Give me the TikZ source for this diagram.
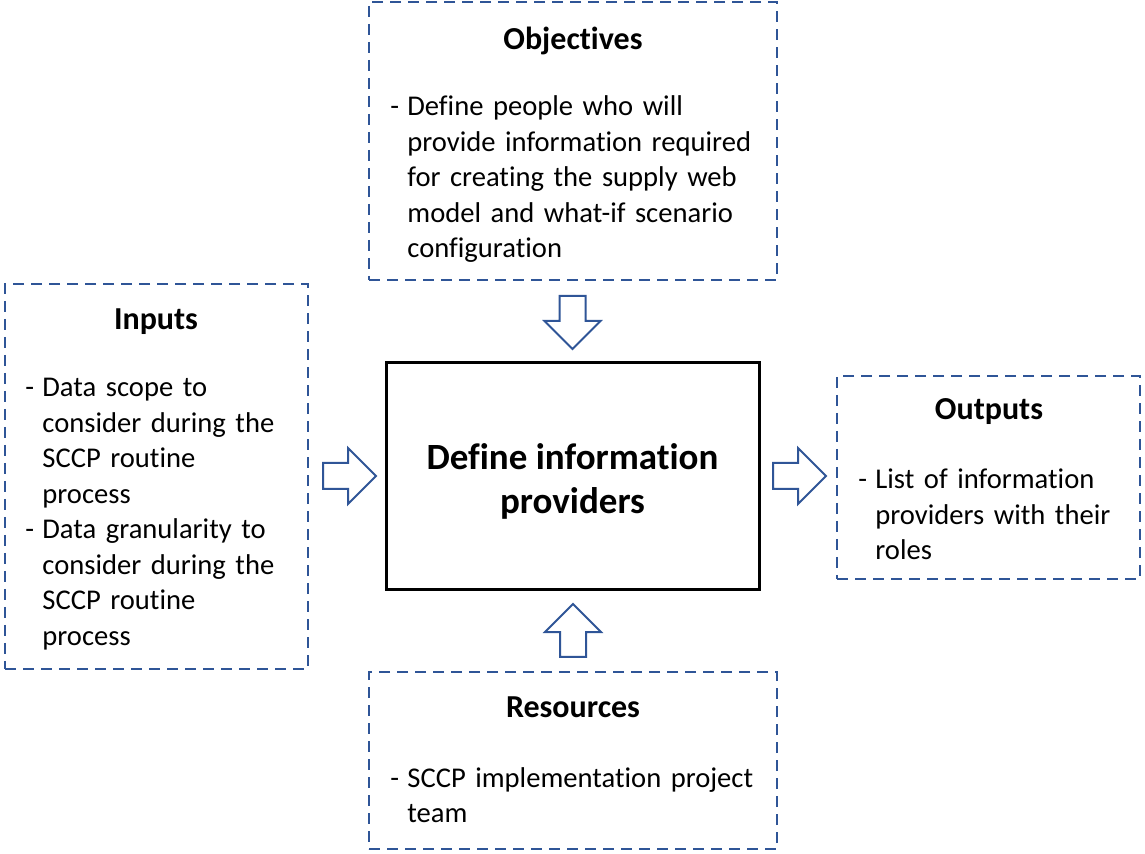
\documentclass[tikz,border=0pt]{standalone}
\usepackage{fontspec}
\setmainfont[Ligatures={NoCommon}]{Carlito}
\usetikzlibrary{shapes.arrows}
\definecolor{boxblue}{HTML}{2F5597}
\newcommand\bitem[1]{\hangindent=8.5pt\hangafter=1\makebox[8.5pt][l]{-}#1\par}

\tikzset{
  infobox/.style={draw=boxblue, line width=1pt, dash pattern=on 5.5pt off 3.5pt, inner sep=0pt},
  mainbox/.style={draw=black, line width=1.5pt, inner sep=0pt},
  boxtitle/.style={font=\fontsize{16}{19}\selectfont\bfseries, anchor=base, inner sep=0pt},
  boxbody/.style={font=\fontsize{14.3}{17.75}\selectfont, anchor=base west, align=left, text width=195pt, inner sep=0pt},
  flowarrow/.style={single arrow, draw=boxblue, fill=white, line width=1pt, inner xsep=0pt, inner ysep=6pt,
    minimum height=26.5pt, minimum width=0pt, single arrow head extend=7.5pt, anchor=tail}
}

\begin{document}
\begin{tikzpicture}[x=0.5pt,y=-0.5pt]
  \useasboundingbox (0,0) rectangle (1145,854);

  % boxes
  \node[infobox, minimum width=204pt, minimum height=139pt] (obj) at (573,141) {};
  \node[infobox, minimum width=151.5pt, minimum height=192.5pt] (inp) at (156.5,476.5) {};
  \node[mainbox, minimum width=186.5pt, minimum height=113.5pt] (proc) at (572.5,476.5) {};
  \node[infobox, minimum width=151.5pt, minimum height=101.5pt] (outp) at (988.5,477.5) {};
  \node[infobox, minimum width=204pt, minimum height=88.5pt] (res) at (573,760.5) {};

  % titles
  \node[boxtitle] (objtitle) at (573,50) {Objectives};
  \node[boxtitle] (inptitle) at (156,330) {Inputs};
  \node[boxtitle] (outtitle) at (989,420) {Outputs};
  \node[boxtitle] (restitle) at (573,718) {Resources};

  % bullet texts
  \node[boxbody] (objtext) at (390,116)
    {\bitem{Define people who will\newline provide information required\newline
     for creating the supply web\newline model and what-if scenario\newline configuration}};
  \node[boxbody] (inptext) at (25,397)
    {\bitem{Data scope to\newline consider during the\newline SCCP routine\newline process}
     \bitem{Data granularity to\newline consider during the\newline SCCP routine\newline process}};
  \node[boxbody] (outtext) at (858,489)
    {\bitem{List of information\newline providers with their\newline roles}};
  \node[boxbody] (restext) at (390,787)
    {\bitem{SCCP implementation project\newline team}};

  \node[font=\fontsize{18.5}{22}\selectfont\bfseries, align=center] (proctext) at (572.5,481)
    {Define information\\providers};

  % block arrows
  \node[flowarrow] (arrin) at (322,476) {};
  \node[flowarrow, rotate=-90] (arrobj) at (572.5,295) {};
  \node[flowarrow] (arrout) at (772,476) {};
  \node[flowarrow, rotate=90] (arrres) at (573,658) {};
\end{tikzpicture}
\end{document}
